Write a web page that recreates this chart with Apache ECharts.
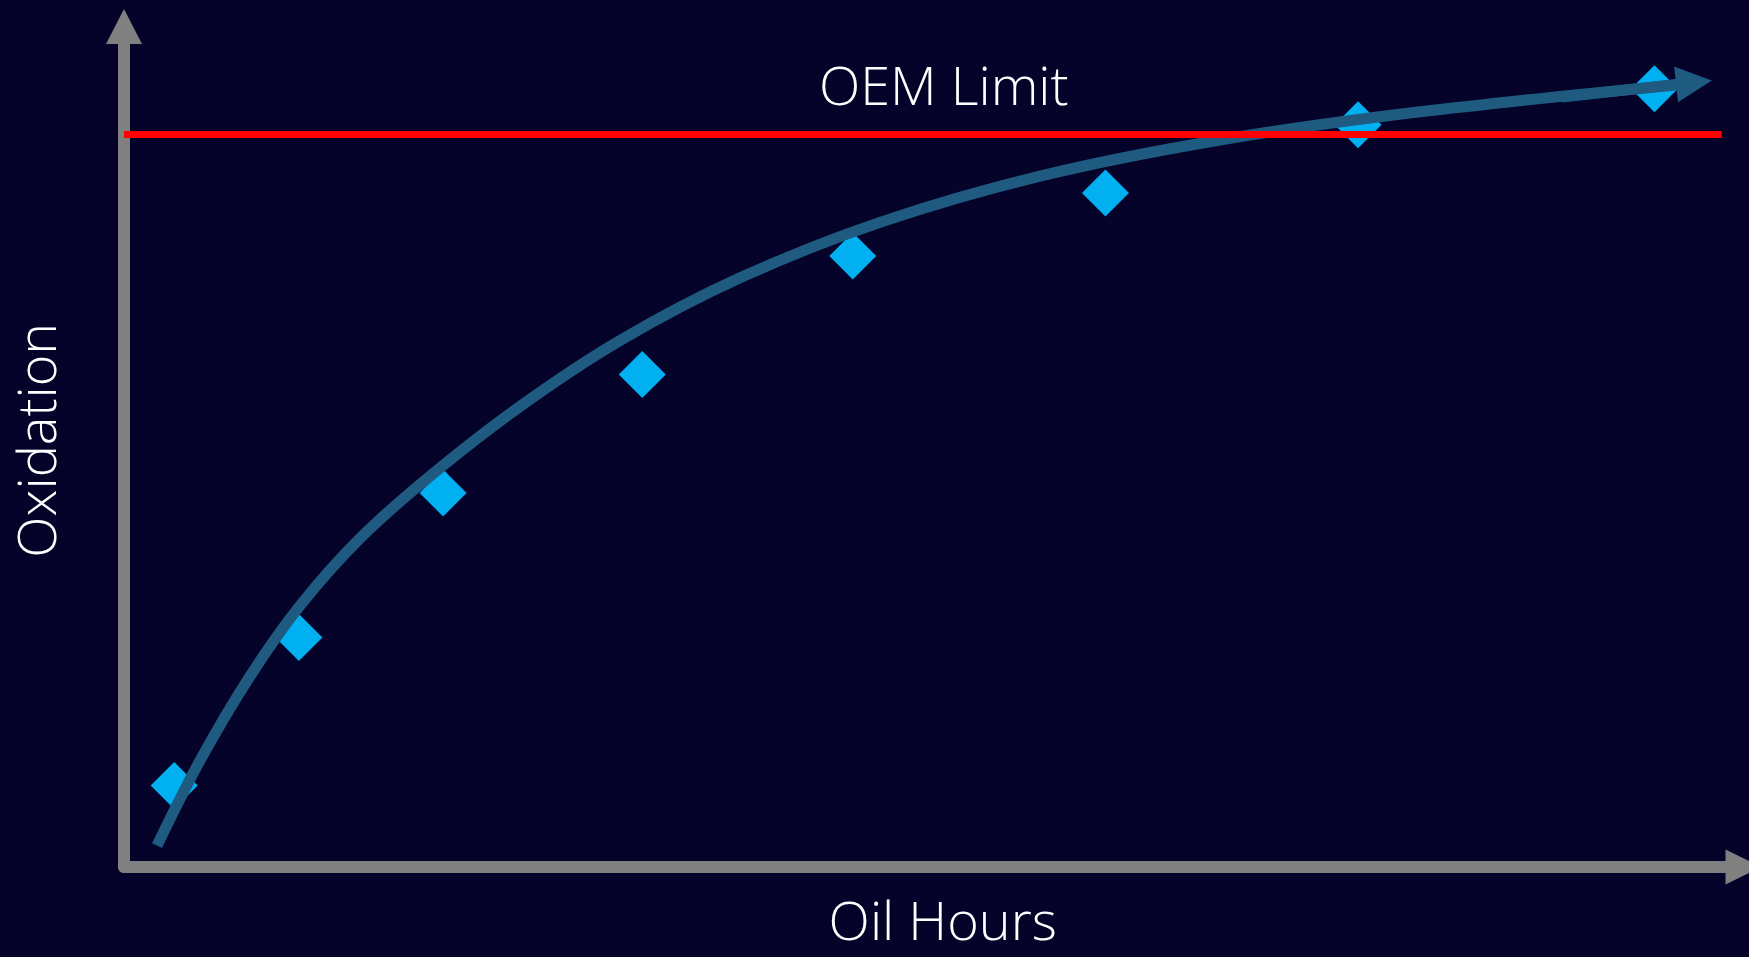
<!DOCTYPE html>
<html>
<head>
<meta charset="utf-8">
<script src="https://cdn.jsdelivr.net/npm/echarts@6/dist/echarts.min.js"></script>
<style>
    html, body {margin: 0; padding: 0; background: #050329;}
    #chart {width: 1749px; height: 957px;}
</style>
</head>
<body>
<div id="chart"></div>
<script>
// measured oil samples (hours, oxidation)
var sampleHours = [31, 108, 197, 320, 450, 606, 762, 945];
var sampleOxidation = [9.7, 27.3, 44.5, 58.6, 72.7, 80.2, 88.3, 92.6];

// hand drawn trend curve through the samples
var trendHours = [20.4, 46.9, 77.8, 108.7, 145.7, 188.9, 244.5, 306.3, 380.4, 466.8, 565.6, 676.8, 800.2, 958.3];
var trendOxidation = [2.55, 12.65, 22.7, 31.1, 39.1, 46.5, 54.8, 62.65, 70.1, 76.7, 82.2, 86.5, 89.85, 93.05];
var trendArrowFrom = [887.9, 91.6];
var trendArrowTo = [969.4, 93.35];

// OEM limit line
var oemLimit = 87.2;
var oemLimitEnd = 986.5;

var axisColor = '#808080';
var fontFam = "'Open Sans', 'Noto Sans', sans-serif";

var samples = [];
for (var i = 0; i < sampleHours.length; i++) {
    samples.push([sampleHours[i], sampleOxidation[i]]);
}
var trend = [];
for (var j = 0; j < trendHours.length; j++) {
    trend.push([trendHours[j], trendOxidation[j]]);
}

var chart = echarts.init(document.getElementById('chart'));
chart.setOption({
    backgroundColor: '#050329',
    animation: false,
    grid: {left: 124, right: 5.5, top: 26.5, bottom: 88.5},
    xAxis: {
        type: 'value',
        min: 0,
        max: 1000,
        name: 'Oil Hours',
        nameLocation: 'middle',
        nameGap: 31,
        nameTextStyle: {color: '#ffffff', fontSize: 54, fontWeight: 300, fontFamily: fontFam, padding: [0, 0, 0, 18]},
        axisLine: {
            show: true,
            symbol: ['none', 'triangle'],
            symbolSize: [35, 36],
            lineStyle: {color: axisColor, width: 12}
        },
        axisTick: {show: false},
        axisLabel: {show: false},
        splitLine: {show: false}
    },
    yAxis: {
        type: 'value',
        min: 0,
        max: 100,
        name: 'Oxidation',
        nameLocation: 'middle',
        nameGap: 56,
        nameTextStyle: {color: '#ffffff', fontSize: 54, fontWeight: 300, fontFamily: fontFam, padding: [0, 0, 0, 13]},
        axisLine: {
            show: true,
            symbol: ['none', 'triangle'],
            symbolSize: [36, 35],
            lineStyle: {color: axisColor, width: 12}
        },
        axisTick: {show: false},
        axisLabel: {show: false},
        splitLine: {show: false}
    },
    series: [{
        name: 'OEM Limit',
        type: 'line',
        data: [],
        markLine: {
            silent: true,
            symbol: ['none', 'none'],
            lineStyle: {color: '#ff0000', width: 7, type: 'solid'},
            label: {
                show: true,
                position: 'middle',
                distance: 17,
                formatter: 'OEM Limit',
                color: '#ffffff',
                fontSize: 54,
                fontWeight: 300,
                fontFamily: fontFam,
                padding: [0, 0, 0, 42]
            },
            data: [[{coord: [0, oemLimit]}, {coord: [oemLimitEnd, oemLimit]}]]
        }
    }, {
        name: 'Samples',
        type: 'scatter',
        symbol: 'diamond',
        symbolSize: 47,
        itemStyle: {color: '#00b0f0', opacity: 1},
        data: samples
    }, {
        name: 'Trend',
        type: 'line',
        smooth: 0.33,
        showSymbol: false,
        symbol: 'none',
        lineStyle: {color: '#1f5b80', width: 11, cap: 'butt'},
        data: trend,
        markLine: {
            silent: true,
            symbol: ['none', 'triangle'],
            symbolSize: [36, 36],
            lineStyle: {color: '#1f5b80', width: 11, type: 'solid'},
            label: {show: false},
            data: [[{coord: trendArrowFrom}, {coord: trendArrowTo}]]
        }
    }]
});
</script>
</body>
</html>
